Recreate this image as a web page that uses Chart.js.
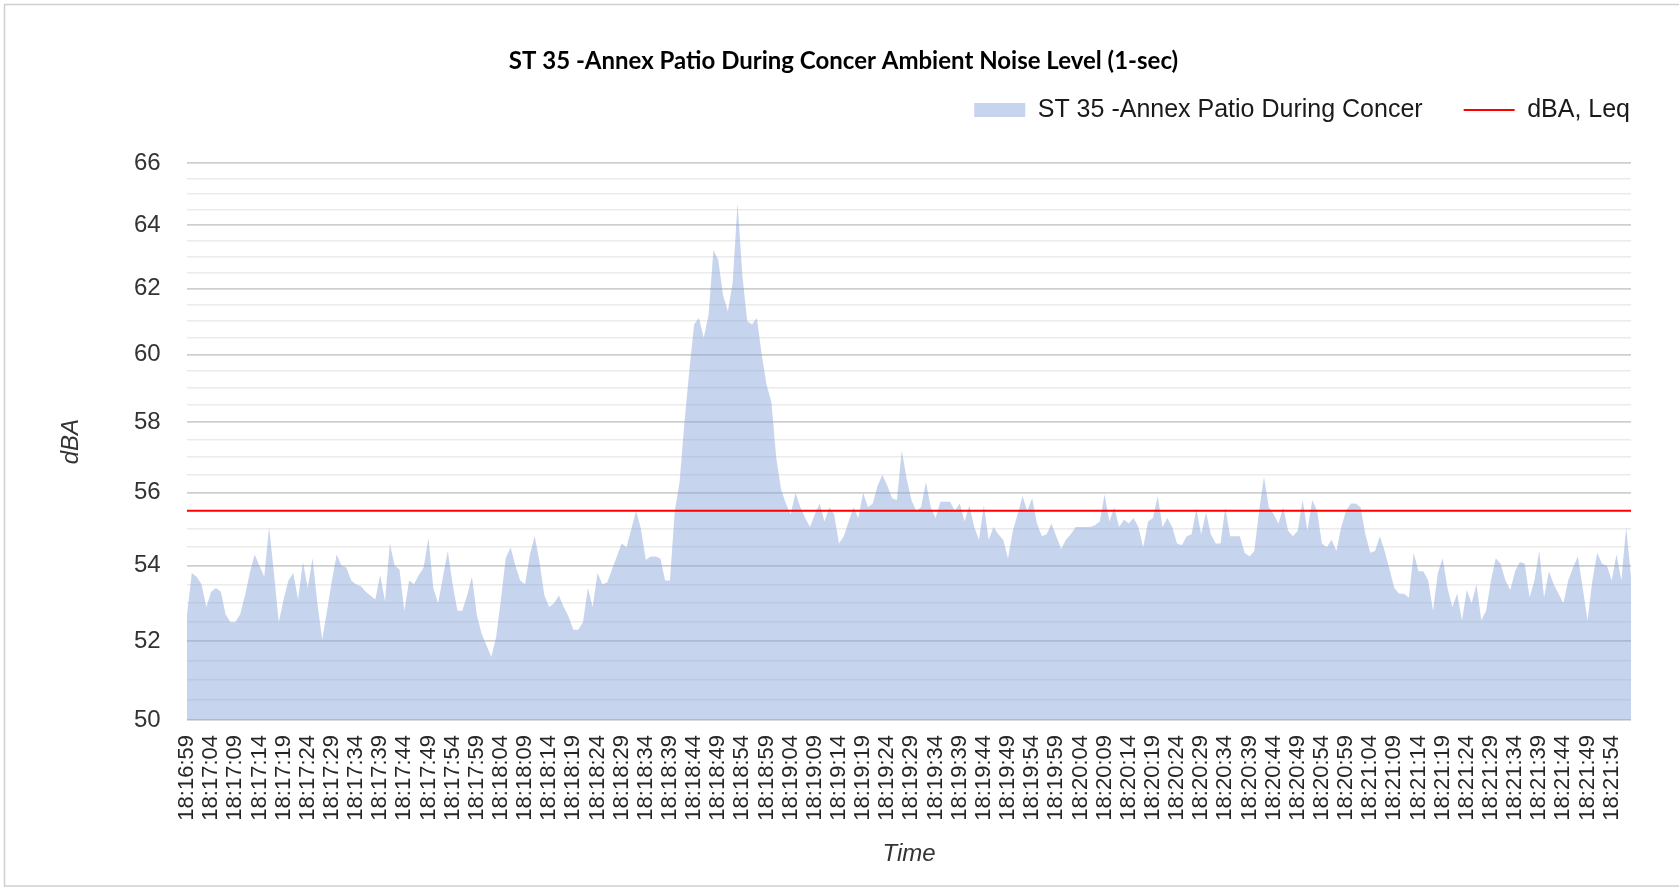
<!DOCTYPE html>
<html><head><meta charset="utf-8">
<script src="https://cdn.jsdelivr.net/npm/chart.js@4.4.1/dist/chart.umd.min.js"></script>
<style>html,body{margin:0;padding:0;background:#fff;}canvas{display:block;}</style>
</head><body>
<canvas id="c" width="1679" height="889"></canvas>
<script>
// ---- data ----
const chartTitle = 'ST 35 -Annex Patio During Concer Ambient Noise Level (1-sec)';
const seriesName = 'ST 35 -Annex Patio During Concer';
const leqName = 'dBA, Leq';
const startTime = [18, 16, 59];
const labelEvery = 5;
const dbaValues = [
52.7,53.8,53.7,53.5,52.9,53.3,53.4,53.3,52.7,52.5,
52.5,52.7,53.2,53.8,54.3,54.0,53.7,55.05,53.8,52.5,
53.1,53.6,53.8,53.1,54.1,53.4,54.2,53.0,52.05,52.8,
53.6,54.3,54.0,53.95,53.6,53.5,53.45,53.3,53.2,53.1,
53.75,53.05,54.6,54.0,53.9,52.8,53.6,53.5,53.75,53.95,
54.75,53.4,53.0,53.7,54.4,53.5,52.8,52.8,53.2,53.7,
52.7,52.2,51.9,51.6,52.1,53.1,54.2,54.5,54.0,53.6,
53.5,54.3,54.8,54.1,53.2,52.9,53.0,53.2,52.9,52.65,
52.3,52.3,52.5,53.4,52.9,53.8,53.5,53.55,53.9,54.25,
54.6,54.5,55.0,55.5,55.0,54.15,54.25,54.25,54.2,53.6,
53.6,55.5,56.3,58.0,59.5,60.9,61.1,60.5,61.2,63.2,
62.9,61.8,61.3,62.2,64.7,62.4,61.0,60.9,61.1,60.0,
59.1,58.6,57.0,56.1,55.7,55.4,56.0,55.6,55.3,55.05,
55.4,55.7,55.2,55.6,55.4,54.6,54.8,55.2,55.6,55.3,
56.0,55.6,55.7,56.2,56.5,56.2,55.85,55.8,57.2,56.4,
55.8,55.5,55.6,56.3,55.6,55.3,55.75,55.75,55.75,55.5,
55.7,55.2,55.65,55.05,54.7,55.65,54.7,55.05,54.85,54.7,
54.2,54.95,55.4,55.9,55.5,55.85,55.15,54.8,54.85,55.15,
54.8,54.45,54.7,54.85,55.05,55.05,55.05,55.05,55.1,55.2,
55.95,55.2,55.6,55.05,55.25,55.15,55.3,55.05,54.5,55.2,
55.3,55.9,55.05,55.3,55.05,54.6,54.55,54.8,54.85,55.55,
54.85,55.45,54.85,54.6,54.6,55.6,54.8,54.8,54.8,54.35,
54.25,54.4,55.5,56.45,55.6,55.4,55.15,55.6,54.95,54.8,
54.95,55.8,54.95,55.8,55.5,54.6,54.5,54.7,54.4,55.05,
55.5,55.7,55.7,55.6,54.85,54.35,54.4,54.8,54.4,53.9,
53.4,53.25,53.25,53.15,54.35,53.85,53.85,53.6,52.8,53.8,
54.2,53.4,52.9,53.25,52.55,53.35,53.0,53.5,52.55,52.8,
53.6,54.2,54.05,53.6,53.35,53.85,54.1,54.05,53.15,53.6,
54.4,53.15,53.85,53.5,53.25,53.0,53.6,53.95,54.25,53.4,
52.55,53.6,54.35,54.05,54.0,53.6,54.3,53.6,55.05,53.7
];
const leqValue = 55.5;
const yMin = 50, yMax = 66;
const yMajorTicks = [50, 52, 54, 56, 58, 60, 62, 64, 66];
const yMinorStep = 0.5;

// ---- derived ----
const pad2 = n => String(n).padStart(2, '0');
const timeLabels = dbaValues.map((_, i) => {
  const t = startTime[0] * 3600 + startTime[1] * 60 + startTime[2] + i;
  return Math.floor(t / 3600) + ':' + pad2(Math.floor(t / 60) % 60) + ':' + pad2(t % 60);
});
const yAllTicks = [];
for (let v = yMin; v <= yMax + 1e-9; v += yMinorStep) yAllTicks.push(v);
const isMajor = v => yMajorTicks.includes(v);

const chromePlugin = {
  id: 'chrome',
  beforeDraw(chart) {
    const ctx = chart.ctx;
    ctx.save();
    ctx.fillStyle = '#ffffff';
    ctx.fillRect(0, 0, chart.width, chart.height);
    ctx.strokeStyle = '#d0d0d0';
    ctx.lineWidth = 1.5;
    ctx.strokeRect(4.5, 4.5, chart.width + 20, chart.height - 7.5);
    ctx.restore();
  }
};

new Chart(document.getElementById('c'), {
  type: 'line',
  data: {
    labels: timeLabels,
    datasets: [
      {
        label: seriesName,
        data: dbaValues,
        xAxisID: 'x',
        yAxisID: 'y',
        fill: 'start',
        backgroundColor: 'rgba(130,160,215,0.45)',
        borderColor: 'rgba(130,160,215,0.45)',
        borderWidth: 0,
        pointRadius: 0,
        pointStyle: 'rect',
        tension: 0,
        order: 1
      },
      {
        label: leqName,
        data: [{x: timeLabels[0], y: leqValue}, {x: timeLabels[timeLabels.length - 1], y: leqValue}],
        xAxisID: 'x',
        yAxisID: 'y',
        borderColor: '#ff0000',
        backgroundColor: '#ff0000',
        borderWidth: 2,
        pointRadius: 0,
        pointStyle: 'line',
        fill: false,
        order: 0
      }
    ]
  },
  options: {
    responsive: false,
    devicePixelRatio: 1,
    animation: false,
    events: [],
    layout: {padding: {left: 16, right: 8, top: 0, bottom: 0}},
    plugins: {
      tooltip: {enabled: false},
      title: {
        display: true,
        text: chartTitle,
        color: '#000',
        font: {family: 'Lato', size: 24, weight: 'bold'},
        padding: {top: 46.6, bottom: -18.9}
      },
      legend: {
        display: true,
        position: 'top',
        align: 'end',
        labels: {
          usePointStyle: true,
          pointStyleWidth: 51,
          boxHeight: 14,
          padding: 41,
          color: '#1a1a1a',
          font: {family: 'Liberation Sans', size: 25},
          sort: (a, b) => a.datasetIndex - b.datasetIndex
        }
      }
    },
    scales: {
      x: {
        type: 'category',
        position: 'bottom',
        grid: {display: false},
        border: {display: false},
        ticks: {
          autoSkip: false,
          minRotation: 90,
          maxRotation: 90,
          padding: 7,
          color: '#262626',
          font: {family: 'Liberation Sans', size: 22},
          callback: (val, idx) => idx % labelEvery === 0 ? timeLabels[idx] : ''
        },
        title: {
          display: true,
          text: 'Time',
          color: '#333',
          font: {family: 'Liberation Sans', size: 24, style: 'italic'},
          padding: {top: 0, bottom: 20.5}
        },
        afterFit: s => { s.height = 169; }
      },
      y: {
        type: 'logarithmic',
        position: 'left',
        min: yMin,
        max: yMax,
        afterBuildTicks: s => { s.ticks = yAllTicks.map(v => ({value: v})); },
        grid: {
          drawTicks: false,
          color: c => (c.tick && isMajor(c.tick.value)) ? '#cfcfcf' : '#ebebeb',
          lineWidth: c => (c.tick && isMajor(c.tick.value)) ? 1.8 : 1.6
        },
        border: {display: false},
        ticks: {
          autoSkip: false,
          padding: 26.4,
          color: '#333',
          font: {family: 'Liberation Sans', size: 24},
          callback: v => isMajor(v) ? String(v) : ''
        },
        title: {
          display: true,
          text: 'dBA',
          color: '#333',
          font: {family: 'Liberation Sans', size: 24, style: 'italic'},
          padding: {top: 41.2, bottom: 0}
        },
        afterFit: s => { s.width = 171; }
      },
      xTop: {
        type: 'linear',
        position: 'top',
        display: true,
        grid: {display: false},
        border: {display: false},
        ticks: {display: false},
        afterFit: s => { s.height = 30.8; }
      },
      yRight: {
        type: 'linear',
        position: 'right',
        display: true,
        grid: {display: false},
        border: {display: false},
        ticks: {display: false},
        afterFit: s => { s.width = 40; }
      }
    }
  },
  plugins: [chromePlugin]
});
</script></body></html>
